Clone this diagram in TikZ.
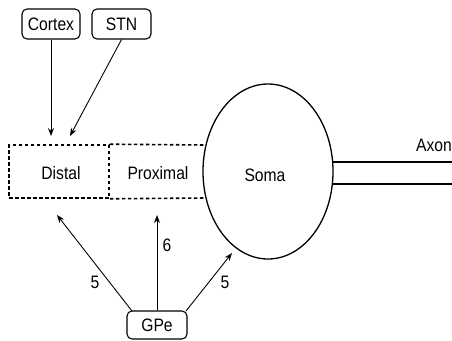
\documentclass[tikz,border=0pt]{standalone}
\usepackage{fontspec}
\setmainfont{Liberation Sans}
\usetikzlibrary{arrows.meta,shapes.geometric}
\newcommand\condtxt[1]{\scalebox{0.87}[1]{#1}}
\begin{document}
\begin{tikzpicture}[x=1pt,y=-1pt,
  every node/.style={font=\fontsize{18}{21}\selectfont},
  srcbox/.style={draw, line width=1.1pt, rounded corners=5pt, minimum height=30pt, inner sep=0pt},
  conn/.style={line width=0.9pt, -{Stealth[length=8pt,width=6pt]}},
  dendr/.style={line width=1.6pt, dash pattern=on 3.5pt off 2.5pt},
  lbl/.style={inner sep=0pt}]
\useasboundingbox (0,0) rectangle (452,340);
% sources
\node[srcbox, minimum width=58pt] (cortex) at (51,24) {\condtxt{Cortex}};
\node[srcbox, minimum width=59pt] (stn) at (121.5,24) {\condtxt{STN}};
\node[srcbox, minimum width=60pt, minimum height=28pt] (gpe) at (157,325) {\condtxt{GPe}};
% soma
\node[draw, ellipse, line width=1.3pt, minimum width=130pt, minimum height=175pt, inner sep=0pt, outer sep=0pt] (soma) at (268,171.5) {};
\node[lbl] (somatxt) at (265,175) {\condtxt{Soma}};
% dendrites
\node[draw, dendr, minimum width=100pt, minimum height=53pt, inner sep=0pt] (distal) at (59,171.5) {};
\node[lbl] (distaltxt) at (61,173) {\condtxt{Distal}};
\coordinate (ptopr) at (206,145);
\coordinate (pbotr) at (206,198);
\draw[dendr] (distal.north east) -- (ptopr);
\draw[dendr] (distal.south east) -- (pbotr);
\node[lbl] (proxtxt) at (158,173) {\condtxt{Proximal}};
% axon
\coordinate (ax1) at (333,162);
\coordinate (ax2) at (333,184);
\coordinate (ax1e) at (452,162);
\coordinate (ax2e) at (452,184);
\draw[line width=2pt] (ax1) -- (ax1e);
\draw[line width=2pt] (ax2) -- (ax2e);
\node[lbl, anchor=east] (axontxt) at (452,145) {\condtxt{Axon}};
% inputs from top
\coordinate (ctip) at (51,136);
\coordinate (stip) at (70,136);
\draw[conn] (cortex.south) -- (ctip);
\draw[conn] (stn.south) -- (stip);
% GPe inputs
\coordinate (g1s) at (132,311);
\coordinate (g1t) at (57,215);
\coordinate (g2t) at (157,215);
\coordinate (g3s) at (186,311);
\coordinate (g3t) at (232,253);
\draw[conn] (g1s) -- (g1t);
\draw[conn] (gpe.north) -- (g2t);
\draw[conn] (g3s) -- (g3t);
\node[lbl] (l1) at (95,282) {\condtxt{5}};
\node[lbl] (l2) at (167,245) {\condtxt{6}};
\node[lbl] (l3) at (225,282) {\condtxt{5}};
\end{tikzpicture}
\end{document}
